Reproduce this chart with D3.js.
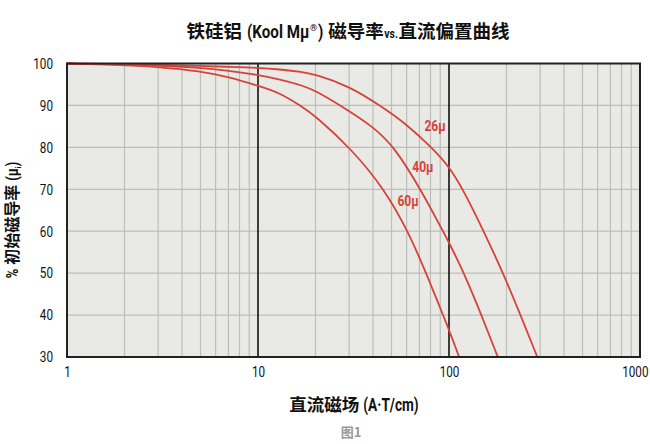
<!DOCTYPE html>
<html><head><meta charset="utf-8">
<script src="https://cdn.jsdelivr.net/npm/d3@7"></script>
<style>body{margin:0;background:#fff}</style>
</head><body>
<svg id="c" width="650" height="444"></svg>
<script>
// ---- data ----
const xTickValues = [1, 10, 100, 1000];
const xTickLabels = ["1", "10", "100", "1000"];
const yTickValues = [30, 40, 50, 60, 70, 80, 90, 100];
const seriesNames = ["26μ", "40μ", "60μ"];
const field26 = [1, 2, 3, 5, 7, 10, 13, 17, 20, 30, 43.5, 60, 81, 100, 120, 152, 192, 237, 290];
const perm26  = [100, 99.9, 99.7, 99.4, 99.2, 99.0, 98.6, 98.0, 97.4, 94.6, 90, 85.5, 80, 75.5, 69.5, 60, 50, 40, 30];
const field40 = [1, 2, 3, 5, 7, 10, 13, 17, 20, 27, 40, 52, 71, 93, 100, 120, 148, 180];
const perm40  = [100, 99.8, 99.5, 99.0, 98.3, 97.3, 96.2, 94.8, 93.5, 90, 85, 80, 70, 60, 57.3, 50, 40, 30];
const field60 = [1, 2, 3, 5, 7, 10, 13, 16.6, 20, 31, 46, 61, 76, 93, 100, 113];
const perm60  = [100, 99.6, 99.2, 98.2, 96.8, 94.7, 93.0, 90, 87.5, 79.5, 70, 60, 50, 40, 36.5, 30];
const labelAnchors = [[84.5, 84], [73, 74], [61, 66]]; // [H, value] where each label sits

const svg = d3.select("#c");
const L = 67, R = 640, T = 63.5, B = 357;
const x = d3.scaleLog().domain([1, 1000]).range([L, R]);
const y = d3.scaleLinear().domain([30, 100]).range([B, T]);
const red = "#d5433a";
const latin = "Roboto,'Liberation Sans',sans-serif";
const cjk = "'Noto Sans CJK SC',sans-serif";

// horizontally squeeze a text about its anchor point ax
function squeeze(sel, f, anchor, ax) {
  sel.each(function (d, i) {
    const base = (typeof ax === "function") ? ax(d, i) : ax;
    d3.select(this).attr("text-anchor", anchor).attr("x", 0)
      .attr("transform", `translate(${base},0) scale(${f},1)`);
  });
}
// lay out a row of text pieces (each its own <text>) centred on cx
function richRow(g, parts, cx, baseY, color) {
  const nodes = parts.map(p => {
    const t = g.append("text").attr("x", 0).attr("y", baseY + (p.dy || 0)).attr("fill", color)
      .style("font-family", p.font).style("font-size", p.size + "px").style("font-weight", "bold")
      .text(p.text);
    const w = t.node().getComputedTextLength() * (p.f || 1);
    return { t, f: p.f || 1, w, gap: p.gap || 0 };
  });
  const total = d3.sum(nodes, n => n.w + n.gap);
  let cur = cx - total / 2;
  nodes.forEach(n => { n.t.attr("transform", `translate(${cur},0) scale(${n.f},1)`); cur += n.w + n.gap; });
}

svg.append("rect").attr("x", L).attr("y", T).attr("width", R - L).attr("height", B - T).attr("fill", "#e9e9e5");

// minor vertical grid
const minorX = [];
[1, 10, 100].forEach(d => { for (let k = 2; k <= 9; k++) minorX.push(d * k); });
svg.append("g").selectAll("line").data(minorX).join("line")
  .attr("x1", d => x(d)).attr("x2", d => x(d)).attr("y1", T).attr("y2", B)
  .attr("stroke", "#bdbdb9").attr("stroke-width", 1.2);
// horizontal grid
svg.append("g").selectAll("line").data(yTickValues.slice(1, -1)).join("line")
  .attr("x1", L).attr("x2", R).attr("y1", d => y(d)).attr("y2", d => y(d))
  .attr("stroke", "#bdbdb9").attr("stroke-width", 1.2);
// major vertical
svg.append("g").selectAll("line").data([10, 100]).join("line")
  .attr("x1", d => x(d)).attr("x2", d => x(d)).attr("y1", T).attr("y2", B)
  .attr("stroke", "#111").attr("stroke-width", 1.6);

// curves
svg.append("clipPath").attr("id", "pc").append("rect")
  .attr("x", L).attr("y", T - 2).attr("width", R - L).attr("height", B - T + 2);
const line = d3.line().x(d => x(d[0])).y(d => y(d[1])).curve(d3.curveBasis);
const series = [d3.zip(field26, perm26), d3.zip(field40, perm40), d3.zip(field60, perm60)];
svg.append("g").attr("clip-path", "url(#pc)").selectAll("path").data(series).join("path")
  .attr("d", line).attr("fill", "none").attr("stroke", red).attr("stroke-width", 1.8);

// frame
svg.append("rect").attr("x", L).attr("y", T).attr("width", R - L).attr("height", B - T)
  .attr("fill", "none").attr("stroke", "#222").attr("stroke-width", 2);

// series labels
const sl = svg.append("g").selectAll("text").data(seriesNames).join("text")
  .attr("y", (d, i) => y(labelAnchors[i][1])).attr("fill", red)
  .style("font-family", latin).style("font-weight", "bold").style("font-size", "15px")
  .text(d => d);
squeeze(sl, 0.8, "middle", (d, i) => x(labelAnchors[i][0]));

// axes
const xAxis = d3.axisBottom(x).tickValues(xTickValues).tickFormat((d, i) => xTickLabels[i]).tickSize(0).tickPadding(9);
const gx = svg.append("g").attr("transform", `translate(0,${B})`).call(xAxis);
gx.select(".domain").remove();
gx.selectAll("text").style("font-family", latin).style("font-size", "15px").attr("fill", "#111");
squeeze(gx.selectAll("text").filter(d => d !== 1000), 0.78, "middle", 0);
squeeze(gx.selectAll("text").filter(d => d === 1000), 0.78, "end", 8);
const yAxis = d3.axisLeft(y).tickValues(yTickValues).tickSize(0).tickPadding(14);
const gy = svg.append("g").attr("transform", `translate(${L},0)`).call(yAxis);
gy.select(".domain").remove();
gy.selectAll("text").style("font-family", latin).style("font-size", "15px").attr("fill", "#111");
squeeze(gy.selectAll("text"), 0.78, "end", -14);

// title
richRow(svg.append("g"), [
  { text: "铁硅铝", font: cjk, size: 18.5, gap: 5 },
  { text: "(Kool Mμ", font: latin, size: 18.5, f: 0.82, gap: 0.5 },
  { text: "®", font: latin, size: 9, dy: -7, gap: 1 },
  { text: ")", font: latin, size: 18.5, f: 0.82, gap: 5 },
  { text: "磁导率", font: cjk, size: 18.5, gap: 0.5 },
  { text: "vs.", font: latin, size: 13, f: 0.8, gap: 0.5 },
  { text: "直流偏置曲线", font: cjk, size: 18.5 }
], 348, 38, "#111");

// x label
richRow(svg.append("g"), [
  { text: "直流磁场", font: cjk, size: 17.5, gap: 4 },
  { text: "(A·T/cm)", font: latin, size: 17.5, f: 0.78 }
], 354, 411, "#111");

// y label (rotated)
richRow(svg.append("g").attr("transform", "translate(18,220) rotate(-90)"), [
  { text: "%", font: latin, size: 16, f: 0.8, gap: 4 },
  { text: "初始磁导率", font: cjk, size: 16, gap: 4 },
  { text: "(μ", font: latin, size: 16, f: 0.8 },
  { text: "i", font: latin, size: 8, dy: 3 },
  { text: ")", font: latin, size: 16, f: 0.8 }
], 0, 0, "#111");

// figure caption
svg.append("text").attr("x", 351).attr("y", 437).attr("text-anchor", "middle")
  .style("font-family", cjk).style("font-weight", "bold").style("font-size", "13px").attr("fill", "#999")
  .text("图1");
</script>
</body></html>
